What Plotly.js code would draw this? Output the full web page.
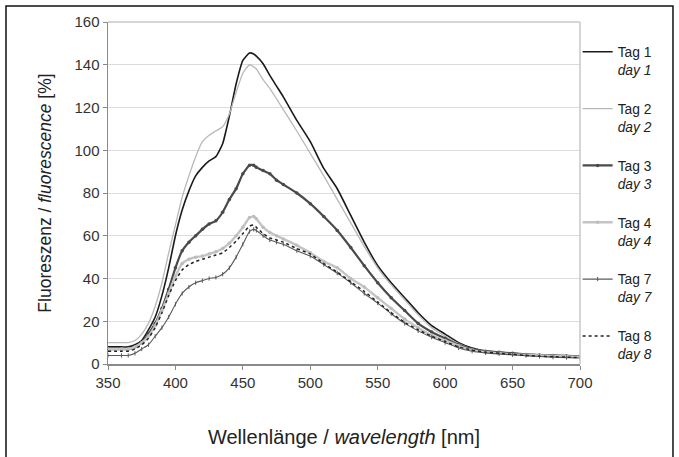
<!DOCTYPE html>
<html>
<head>
<meta charset="utf-8">
<script src="https://cdn.plot.ly/plotly-3.0.1.min.js"></script>
<style>
html,body{margin:0;padding:0;background:#fff;}
#chart{width:679px;height:457px;}
</style>
</head>
<body>
<div id="chart"></div>
<script>
// Wavelengths (nm)
var wavelength = [350,360,365,370,375,380,385,390,395,400,405,410,415,420,425,430,435,440,445,450,455,458,460,465,470,475,480,490,500,510,520,530,540,550,560,570,580,590,600,610,620,630,640,650,660,670,680,690,700];

// Fluorescence (%) per day
var tag1 = [8,8,8,9,11,16,22,32,45,60,72,81,88,92,95,97,103,116,131,142,145.5,145,144,140.5,135,130,125,114,104,91.5,82,69.5,57,46,38,31,24,18,14,10,7.5,6,5.5,5,4.5,4,3.8,3.5,3.3];
var tag2 = [10,10,10,11,14,19,27,38,52,65,78,88,97,104,107,109,111,117,127,136,140,139,138,133,129,124,119,109,98.5,88,77,66,55,45,37,30,23,17,13,9.5,7,6,5.5,5,4.5,4,3.8,3.5,3.3];
var tag3 = [7,7,7,8,10,14,19,26,35,45,53,57,60,63,65.5,67,71,77,82,89,93,93,92,90.5,89,86,84,80,75,69,62.5,54.5,46,38,31,25,19,15,12,9,7,6,5.5,5,4.5,4.2,4,3.8,3.6];
var tag4 = [7,7,7,8,10,13,18,25,33,41,47,49,50,50.5,51.5,52.5,54,56.5,60,64,68.5,69,68,64,61.5,60,58.5,55.5,52,48,45,40,36,31,26,21,17,13.5,11,8.5,6.5,5.5,5,4.5,4.2,4,3.7,3.5,3.3];
var tag7 = [4,4,4,5,7,9,13,17,22,28,33,36,38,39,40,40.5,42,45,50,56,62,63,62.5,60,58,57,56,53,50.5,46.5,42.5,38,33,28.5,23.5,19,15.5,12.5,10,7.5,6,5.2,4.7,4.3,3.9,3.5,3.2,3,2.8];
var tag8 = [6,6,6,7,9,12,17,24,32,39,44,46.5,48,49,50,51,52,54.5,57.5,61,64.5,65,64,61,59,58,57,54,51.5,47,43,38.5,34,29,24,19.5,16,13,10.5,8,6.5,5.5,5,4.5,4,3.7,3.4,3.2,3];

var seriesNames = ["Tag 1","Tag 2","Tag 3","Tag 4","Tag 7","Tag 8"];
var seriesNamesEn = ["day 1","day 2","day 3","day 4","day 7","day 8"];
var xTicks = [350,400,450,500,550,600,650,700];
var yTicks = [0,20,40,60,80,100,120,140,160];

function lbl(i){ return "\u00a0<br>" + seriesNames[i] + "<br><i>" + seriesNamesEn[i] + "</i>"; }

var traces = [
  {x:wavelength, y:tag1, name:lbl(0), mode:"lines", line:{color:"#1a1a1a", width:1.6, shape:"spline", smoothing:0.5}},
  {x:wavelength, y:tag2, name:lbl(1), mode:"lines", line:{color:"#b8b8b8", width:1.3, shape:"spline", smoothing:0.5}},
  {x:wavelength, y:tag3, name:lbl(2), mode:"lines+markers", line:{color:"#4a4a4a", width:2.2, shape:"spline", smoothing:0.5}, marker:{color:"#4a4a4a", size:3.5, symbol:"circle"}},
  {x:wavelength, y:tag4, name:lbl(3), mode:"lines+markers", line:{color:"#c4c4c4", width:2.4, shape:"spline", smoothing:0.5}, marker:{color:"#bdbdbd", size:3.5, symbol:"circle"}},
  {x:wavelength, y:tag7, name:lbl(4), mode:"lines+markers", line:{color:"#5a5a5a", width:1.1, shape:"spline", smoothing:0.5}, marker:{color:"#5a5a5a", size:3, symbol:"line-ns", line:{color:"#5a5a5a", width:1}}},
  {x:wavelength, y:tag8, name:lbl(5), mode:"lines", line:{color:"#222222", width:1.5, dash:"dot", shape:"spline", smoothing:0.5}}
];

var layout = {
  width:679, height:457,
  margin:{l:108, r:99, t:22, b:93},
  paper_bgcolor:"#ffffff", plot_bgcolor:"#ffffff",
  font:{family:"Liberation Sans, Arial, sans-serif", color:"#222"},
  showlegend:true,
  legend:{x:0.995, xanchor:"left", y:1.0105, yanchor:"top", font:{size:13.8, color:"#222"}, bgcolor:"rgba(0,0,0,0)", tracegroupgap:0, itemwidth:30, maxheight:1},
  xaxis:{
    range:[350,700], tickvals:xTicks, ticktext:xTicks.map(String),
    showgrid:false, zeroline:false,
    showline:true, linecolor:"#8a8a8a", linewidth:1.5, mirror:false,
    ticks:"outside", ticklen:4, tickcolor:"#8a8a8a",
    tickfont:{size:15, color:"#333"},
    title:{text:"Wellenlänge / <i>wavelength</i> [nm]", font:{size:20, color:"#222"}, standoff:40}
  },
  yaxis:{
    range:[0,160], tickvals:yTicks, ticktext:yTicks.map(String),
    showgrid:true, gridcolor:"#dcdcdc", gridwidth:1, zeroline:false,
    showline:true, linecolor:"#8a8a8a", linewidth:1.5,
    ticks:"outside", ticklen:4, tickcolor:"#8a8a8a",
    tickfont:{size:15, color:"#333"},
    title:{text:"Fluoreszenz / <i>fluorescence</i> [%]", font:{size:17.5, color:"#222"}, standoff:18}
  },
  shapes:[
    {type:"line", xref:"paper", yref:"paper", x0:0, x1:1, y0:1, y1:1, line:{color:"#c8c8c8", width:1.5}},
    {type:"line", xref:"paper", yref:"paper", x0:1, x1:1, y0:0, y1:1, line:{color:"#c8c8c8", width:1.5}},
    {type:"rect", xref:"paper", yref:"paper", x0:-0.2161, x1:1.197, y0:-0.5, y1:1.0468, line:{color:"#111", width:1.5}, fillcolor:"rgba(0,0,0,0)", layer:"below"}
  ]
};

Plotly.newPlot("chart", traces, layout, {displayModeBar:false, staticPlot:true});
</script>
</body>
</html>
